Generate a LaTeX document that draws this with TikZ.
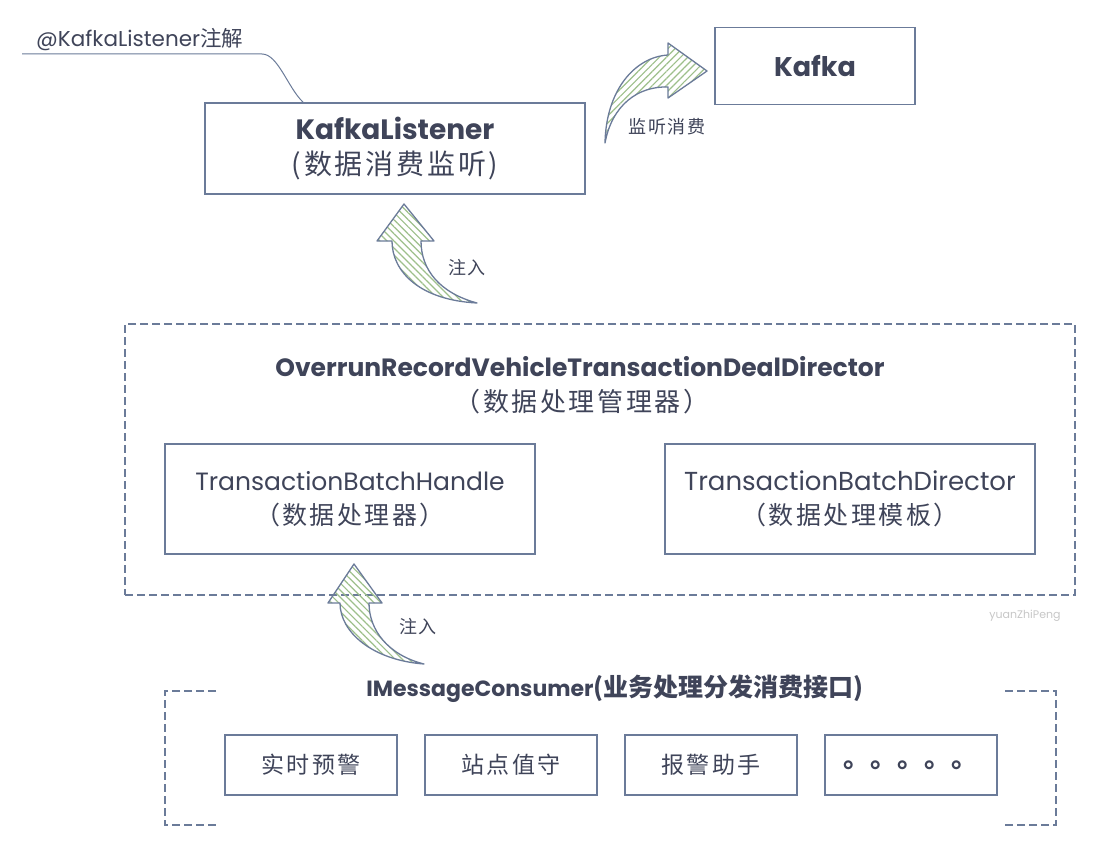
\documentclass[tikz,border=0pt]{standalone}
\usepackage{fontspec}
\setmainfont{Poppins}
\newfontfamily\cjk{Noto Sans CJK SC}
\newfontfamily\cjkw[LetterSpace=10]{Noto Sans CJK SC}
\usetikzlibrary{patterns.meta}
\definecolor{ink}{HTML}{3F4459}
\definecolor{edge}{HTML}{6B7B99}
\definecolor{hatch}{HTML}{9DBF8A}
\tikzset{
  box/.style={draw=edge, line width=1.8pt, text=ink, align=center, inner sep=0pt},
  dbox/.style={draw=edge, line width=1.8pt, dash pattern=on 8pt off 4pt},
  bigarrow/.style={draw=edge, line width=1.3pt, line join=round,
    pattern={Lines[angle=45,distance=5pt,line width=1.2pt]}, pattern color=hatch},
  bigarrowb/.style={draw=edge, line width=1.3pt, line join=round,
    pattern={Lines[angle=-45,distance=5pt,line width=1.2pt]}, pattern color=hatch},
  lbl/.style={text=ink, inner sep=0pt}
}
\begin{document}
\begin{tikzpicture}[x=1pt,y=-1pt]
\useasboundingbox[fill=white] (0,0) rectangle (1102,851);

% annotation
\node[lbl, anchor=west, font=\fontsize{21.5}{24}\selectfont] (ann) at (36,40) {@KafkaListener{\cjk 注解}};
\coordinate (annL) at (22,54);
\coordinate (annR) at (262,54);

% KafkaListener box
\node[box, minimum width=380pt, minimum height=91pt, font=\fontsize{28}{35}\selectfont] (kl) at (395,148.5)
  {{\bfseries KafkaListener}\\{\cjkw\fontsize{28}{35}\selectfont (数据消费监听)}};
\draw[edge, line width=1pt] (annL) -- (annR) .. controls (278,54) and (288,88) .. (kl.north west -| 303,0);

% Kafka box
\node[box, minimum width=200pt, minimum height=77pt, font=\fontsize{27}{30}\selectfont\bfseries] (kafka) at (815,66) {Kafka};

% arrow to Kafka
\draw[bigarrow] (605,143) .. controls (606,90) and (635,57) .. (668,55) -- (668,43) -- (707,71) -- (668,98) -- (668,87)
  .. controls (638,86) and (612,105) .. (605,143) -- cycle;
\node[lbl, font=\cjkw\fontsize{18}{20}\selectfont] (lab1) at (667,127) {监听消费};

% inject arrow 1
\draw[bigarrowb] (477,303) .. controls (420,300) and (392,272) .. (392,241) -- (377,241) -- (404,204) -- (434,241) -- (421,241)
  .. controls (421,270) and (440,293) .. (477,303) -- cycle;
\node[lbl, font=\cjkw\fontsize{18}{20}\selectfont] (lab2) at (467,268) {注入};

% director dashed box
\node[dbox, minimum width=950pt, minimum height=271pt] (dir) at (600,459.5) {};
\node[lbl, font=\fontsize{25}{28}\selectfont\bfseries] (dirt) at (580,367) {OverrunRecordVehicleTransactionDealDirector};
\node[lbl, font=\cjkw\fontsize{26}{28}\selectfont] (dirc) at (582,402) {（数据处理管理器）};

\node[box, minimum width=370pt, minimum height=110pt, font=\fontsize{25}{34}\selectfont] (tbh) at (350,499)
  {TransactionBatchHandle\\{\cjkw\fontsize{25}{34}\selectfont （数据处理器）}};
\node[box, minimum width=370pt, minimum height=110pt, font=\fontsize{26}{34}\selectfont] (tbd) at (850,499)
  {TransactionBatchDirector\\{\cjkw\fontsize{25}{34}\selectfont （数据处理模板）}};

% watermark
\node[text=black!22, font=\fontsize{11}{12}\selectfont, inner sep=0pt] (wm) at (1025,616) {yuanZhiPeng};

% inject arrow 2
\draw[bigarrowb] (424,664) .. controls (372,660) and (340,632) .. (340,603) -- (328,603) -- (354,564) -- (382,603) -- (369,603)
  .. controls (369,630) and (388,655) .. (424,664) -- cycle;
\node[lbl, font=\cjkw\fontsize{18}{20}\selectfont] (lab3) at (418,627) {注入};

% consumer group
\node[lbl] (cons) at (615,689) {{\fontsize{22}{26}\selectfont\bfseries IMessageConsumer}{\cjk\fontsize{25}{28}\selectfont\bfseries (业务处理分发消费接口)}};
\draw[dbox] (216,691) -- (165,691) -- (165,825) -- (216,825);
\draw[dbox] (1005,691) -- (1056,691) -- (1056,825) -- (1005,825);

\tikzset{sbox/.style={box, minimum width=172pt, minimum height=60pt, font=\cjkw\fontsize{23}{26}\selectfont}}
\node[sbox] (b1) at (311,765) {实时预警};
\node[sbox] (b2) at (511,765) {站点值守};
\node[sbox] (b3) at (711,765) {报警助手};
\node[sbox, font=\cjk\fontsize{27}{30}\selectfont\bfseries] (b4) at (911,765) {。。。。。};
\end{tikzpicture}
\end{document}
